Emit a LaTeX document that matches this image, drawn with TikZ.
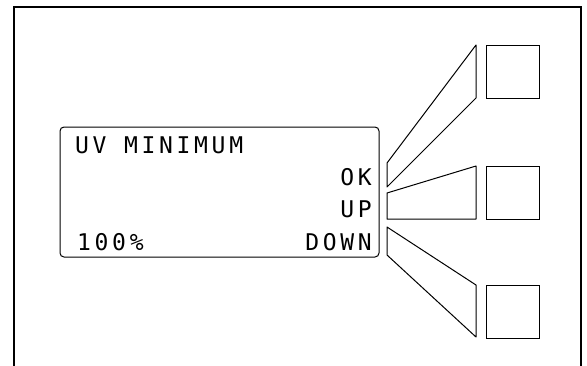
\documentclass[tikz,border=0pt]{standalone}
\usepackage{fontspec}
\newfontfamily\lcdfont[LetterSpace=16]{DejaVu Sans Mono}
\begin{document}
\begin{tikzpicture}[x=1pt,y=-1pt,
  frame/.style={line width=2pt},
  thin/.style={line width=1pt, line join=round},
  lcd/.style={draw, line width=1pt, rounded corners=4pt},
  btn/.style={draw, line width=1pt, minimum size=53pt, inner sep=0pt},
  lcdtext/.style={inner sep=0pt, font=\lcdfont\fontsize{23}{23}\selectfont}]
\useasboundingbox (0,0) rectangle (587,365);
\draw[frame] (14,368) -- (14,7) -- (581,7) -- (581,368);
% display
\draw[lcd] (60,127) rectangle (379,257);
\node[lcdtext, anchor=base west] (title) at (75,153) {UV MINIMUM};
\node[lcdtext, anchor=base east] (ok) at (372,185) {OK};
\node[lcdtext, anchor=base east] (up) at (372,217) {UP};
\node[lcdtext, anchor=base east] (down) at (372,250) {DOWN};
\node[lcdtext, anchor=base west] (val) at (77,250) {100\%};
% buttons
\node[btn, anchor=north west] (b1) at (486,45) {};
\node[btn, anchor=north west] (b2) at (486,166) {};
\node[btn, anchor=north west] (b3) at (486,285) {};
% trapezoids
\draw[thin] (476,45) -- (476,98) -- (387,187) -- (387,163) -- cycle;
\draw[thin] (476,166) -- (476,219) -- (387,219) -- (387,193) -- cycle;
\draw[thin] (387,227) -- (476,285) -- (476,337) -- (387,255) -- cycle;
\end{tikzpicture}
\end{document}
